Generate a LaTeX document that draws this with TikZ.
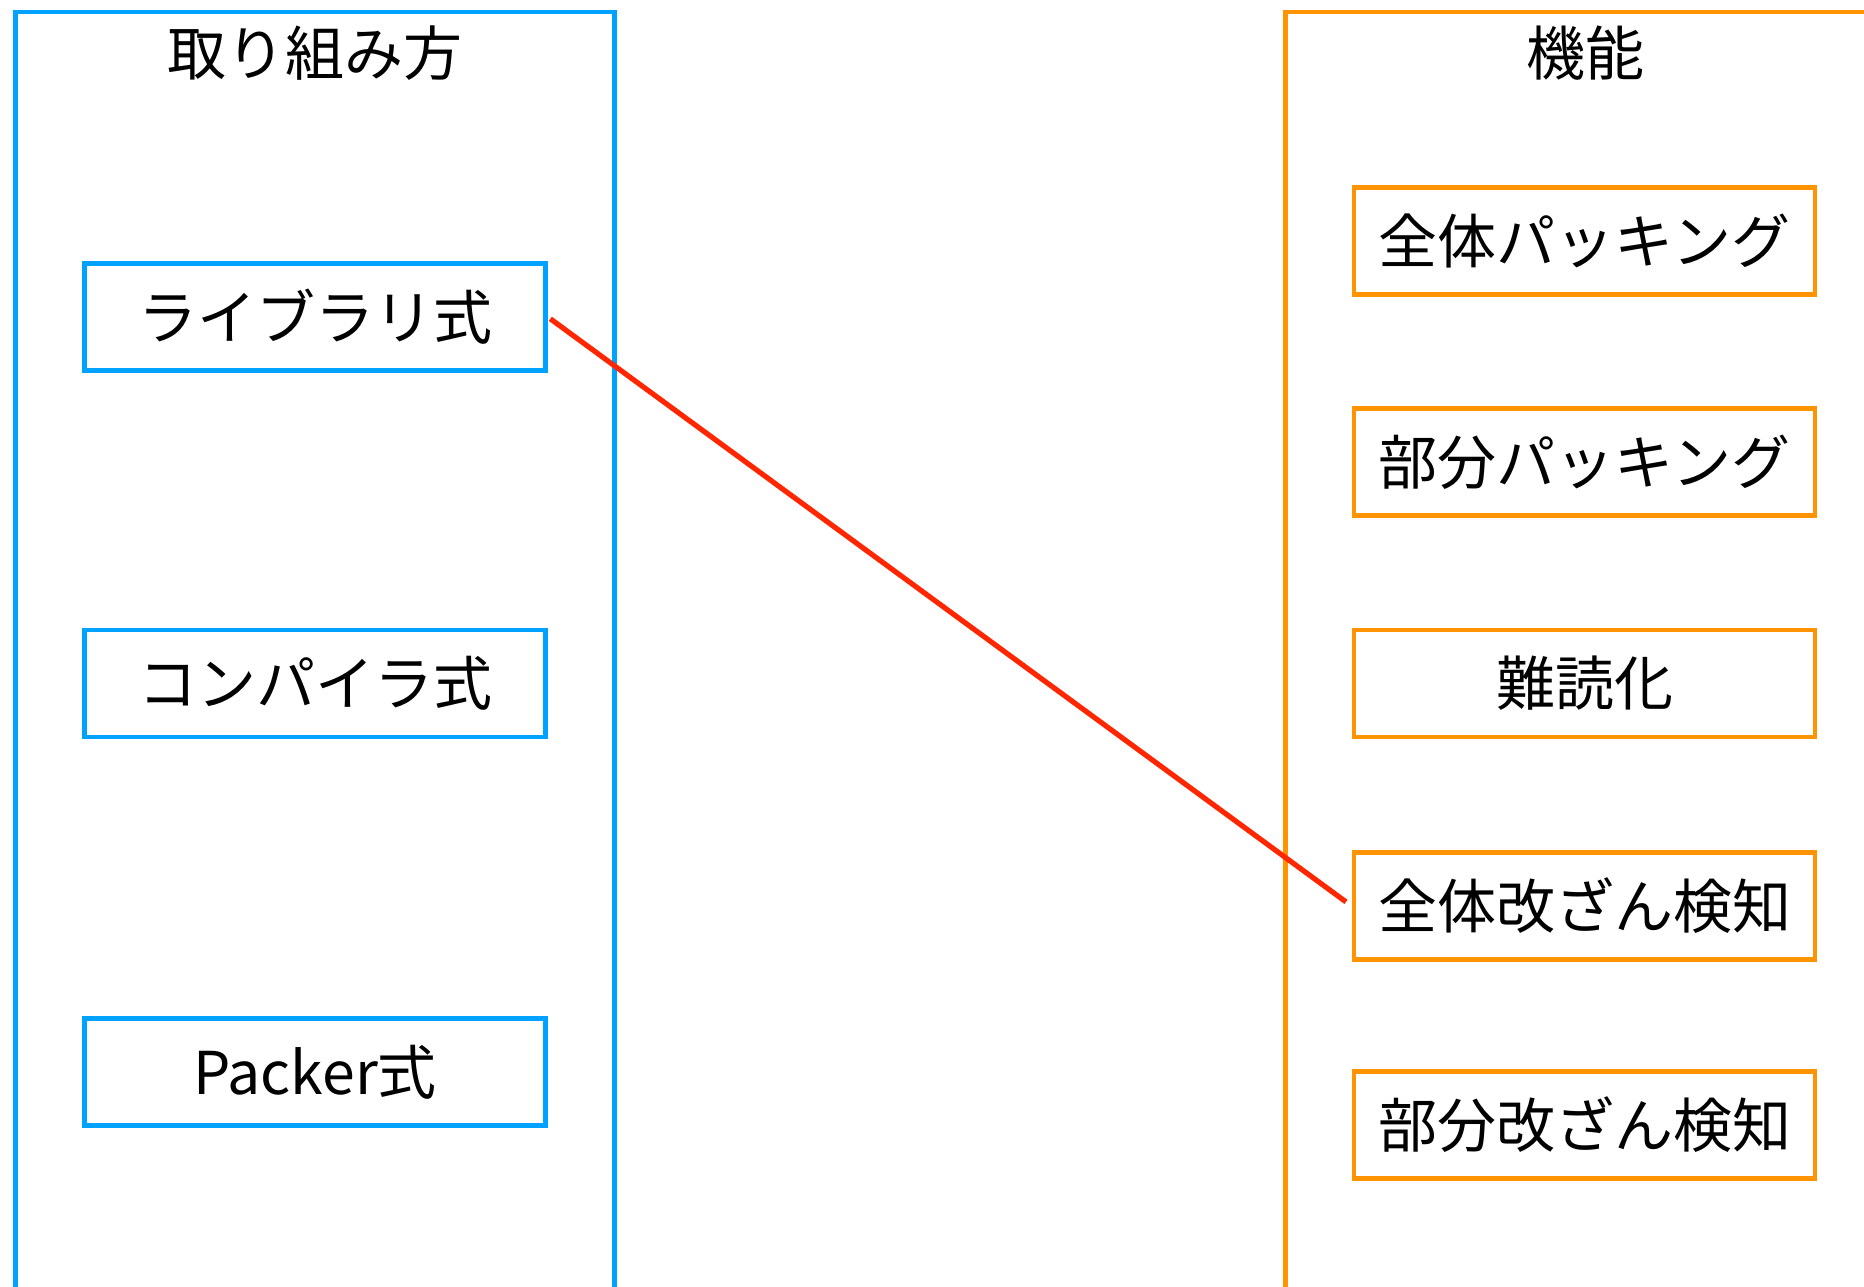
\documentclass[tikz,border=0pt]{standalone}
\usepackage{fontspec}
\setmainfont{Noto Sans CJK JP}
\definecolor{kblue}{RGB}{0,162,255}
\definecolor{korange}{RGB}{255,147,0}
\definecolor{kred}{RGB}{255,38,0}
\tikzset{
  lbl/.style={font=\fontsize{29.5}{35}\selectfont, text=black, inner sep=0pt},
  groupframe/.style={draw=#1, line width=2.4pt, inner sep=0pt, outer sep=0pt, anchor=north west},
  itembox/.style={draw=#1, line width=2.4pt, inner sep=0pt, minimum width=230.5pt, minimum height=53.5pt, font=\fontsize{29.5}{35}\selectfont},
  link/.style={draw=kred, line width=2.6pt, shorten <=1.5pt, shorten >=3.5pt}
}
\begin{document}
\begin{tikzpicture}[x=0.5pt,y=-0.5pt]
\useasboundingbox (0,0) rectangle (1864,1286);
\clip (0,0) rectangle (1864,1286);
% group frames
\node[groupframe=kblue, minimum width=299.5pt, minimum height=660pt] (gL) at (15.5,12) {};
\node[groupframe=korange, minimum width=320pt, minimum height=660pt] (gR) at (1285.5,12) {};
% titles
\node[lbl] (tL) at (315,53) {取り組み方};
\node[lbl] (tR) at (1585,53) {機能};
% left items
\node[itembox=kblue] (lib) at (315,317) {ライブラリ式};
\node[itembox=kblue] (comp) at (315,683.5) {コンパイラ式};
\node[itembox=kblue] (pack) at (315,1072) {Packer式};
% right items
\node[itembox=korange] (zp) at (1584.5,241) {全体パッキング};
\node[itembox=korange] (bp) at (1584.5,462) {部分パッキング};
\node[itembox=korange] (nan) at (1584.5,683.5) {難読化};
\node[itembox=korange] (zk) at (1584.5,906) {全体改ざん検知};
\node[itembox=korange] (bk) at (1584.5,1125) {部分改ざん検知};
% connector
\draw[link] (lib.east) -- (zk.west);
\end{tikzpicture}
\end{document}
